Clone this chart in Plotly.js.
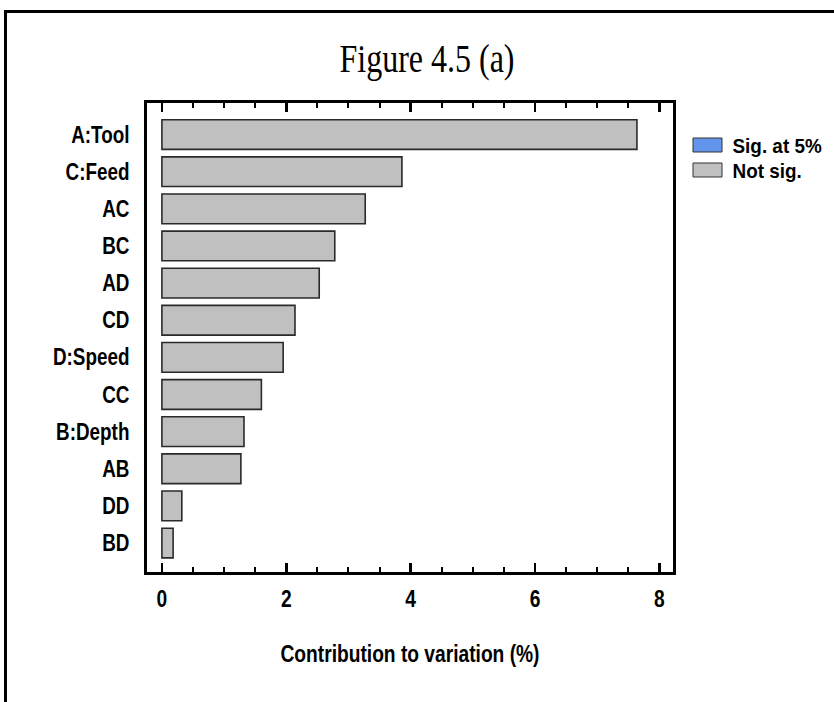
<!DOCTYPE html>
<html>
<head>
<meta charset="utf-8">
<script src="https://cdn.plot.ly/plotly-3.0.1.min.js"></script>
<style>
html, body { margin: 0; padding: 0; background: #ffffff; }
#chart { position: absolute; left: 0; top: 0; width: 834px; height: 702px; }
#frame { position: absolute; left: 4px; top: 10px; width: 840px; height: 720px;
  border-left: 3px solid #000; border-top: 3px solid #000; pointer-events: none; }
</style>
</head>
<body>
<div id="chart"></div>
<div id="frame"></div>
<script>
// Data
const categories = ["A:Tool", "C:Feed", "AC", "BC", "AD", "CD", "D:Speed", "CC", "B:Depth", "AB", "DD", "BD"];
const contribution = [7.64, 3.86, 3.27, 2.78, 2.53, 2.14, 1.95, 1.60, 1.32, 1.27, 0.32, 0.18];
const significant = [false, false, false, false, false, false, false, false, false, false, false, false];
const xTickValues = [0, 2, 4, 6, 8];
const legendNames = ["Sig. at 5%", "Not sig."];

const sigX = contribution.map((v, i) => significant[i] ? v : null);
const notSigX = contribution.map((v, i) => significant[i] ? null : v);

const sansFont = "'Liberation Sans', Arial, sans-serif";

const traces = [
  {
    type: "bar", orientation: "h", name: legendNames[0],
    x: sigX, y: categories, width: 0.8,
    marker: { color: "#6495ED", line: { color: "#2a2a2a", width: 1.6 } },
    hoverinfo: "x+y"
  },
  {
    type: "bar", orientation: "h", name: legendNames[1],
    x: notSigX, y: categories, width: 0.8,
    marker: { color: "#C0C0C0", line: { color: "#2a2a2a", width: 1.6 } },
    hoverinfo: "x+y"
  }
];

const layout = {
  width: 834, height: 702,
  paper_bgcolor: "#ffffff", plot_bgcolor: "#ffffff",
  margin: { l: 147, r: 161, t: 103, b: 130, autoexpand: false },
  barmode: "overlay",
  showlegend: true,
  title: {
    text: "Figure 4.5 (a)",
    font: { family: "'Liberation Serif', 'Times New Roman', serif", size: 40, color: "#000" },
    xref: "container", x: 0.512, xanchor: "center",
    yref: "container", y: 0.918, yanchor: "middle"
  },
  xaxis: {
    range: [-0.24, 8.22],
    tickvals: xTickValues,
    ticktext: xTickValues.map(String),
    ticks: "inside", ticklen: 9, tickwidth: 2.5, tickcolor: "#000",
    minor: { dtick: 0.5, ticks: "inside", ticklen: 5, tickwidth: 2, tickcolor: "#000" },
    showgrid: false, zeroline: false,
    showline: true, linecolor: "#000", linewidth: 3, mirror: "allticks",
    ticklabelstandoff: 3,
    tickfont: { family: sansFont, size: 24, color: "#000", weight: "bold" },
    title: {
      text: "Contribution to variation (%)",
      font: { family: sansFont, size: 24, color: "#000", weight: "bold" },
      standoff: 35
    }
  },
  yaxis: {
    type: "category",
    categoryorder: "array", categoryarray: categories,
    range: [11.78, -0.85],
    ticks: "", showgrid: false, zeroline: false,
    showline: true, linecolor: "#000", linewidth: 3, mirror: true,
    ticklabelstandoff: 10,
    tickfont: { family: sansFont, size: 23, color: "#000", weight: "bold" }
  },
  legend: {
    x: 1.03, xanchor: "left", y: 0.93, yanchor: "top",
    bgcolor: "rgba(0,0,0,0)", borderwidth: 0,
    font: { family: sansFont, size: 21, color: "#000", weight: "bold" },
    traceorder: "normal"
  }
};

function squeeze(selector, s) {
  document.querySelectorAll(selector).forEach(function (t) {
    const x = parseFloat(t.getAttribute("x")) || 0;
    const prev = t.getAttribute("transform") || "";
    t.setAttribute("transform", prev + " translate(" + x + ",0) scale(" + s + ",1) translate(" + (-x) + ",0)");
  });
}

function restyleLegend() {
  const leg = document.querySelector("#chart .legend");
  if (!leg) return;
  leg.setAttribute("transform", "translate(687.5,145)");
  const sb = leg.querySelector(".scrollbox");
  if (sb) sb.setAttribute("transform", "translate(0,0)");
  leg.querySelectorAll(".groups").forEach(function (g) { g.setAttribute("transform", "translate(0,0)"); });
  leg.querySelectorAll(".traces").forEach(function (tr, i) {
    tr.setAttribute("transform", "translate(0," + (i * 25) + ")");
    tr.querySelectorAll(".legendpoints path").forEach(function (p) {
      p.setAttribute("d", "M-14.5,-7H14.5V7H-14.5Z");
      p.style.strokeWidth = "1px";
      p.style.stroke = "#333333";
    });
    const txt = tr.querySelector("text.legendtext");
    if (txt) txt.setAttribute("x", "45");
  });
  const bg = leg.querySelector("rect.bg");
  if (bg) { bg.setAttribute("height", "80"); bg.setAttribute("y", "-20"); }
}

Plotly.newPlot("chart", traces, layout, { displayModeBar: false, staticPlot: true }).then(function () {
  restyleLegend();
  squeeze("#chart .xtick text", 0.8);
  squeeze("#chart .ytick text", 0.82);
  squeeze("#chart .g-xtitle text", 0.8);
  squeeze("#chart .g-gtitle text", 0.8);
  squeeze("#chart .legendtext", 0.9);
  const legClip = document.querySelectorAll("#chart clipPath[id^='legend'] rect");
  legClip.forEach(function (r) { r.setAttribute("height", "200"); r.setAttribute("y", "-50"); r.setAttribute("width", "300"); });
});
</script>
</body>
</html>
